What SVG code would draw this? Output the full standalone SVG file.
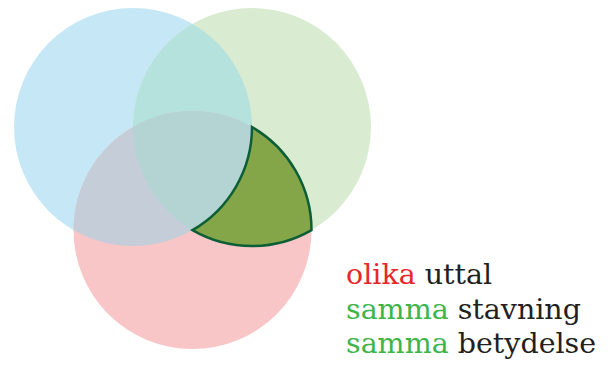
<svg xmlns="http://www.w3.org/2000/svg" width="616" height="365" viewBox="0 0 616 365">
<style>
.t{font-family:"DejaVu Serif","Liberation Serif",serif;font-size:28.5px;fill:#231f20}
.r{fill:#e8262b}
.g{fill:#3db54a}
</style>
<rect width="616" height="365" fill="#ffffff"/>
<g id="circle-blue"><circle cx="133" cy="127" r="119" fill="#c6e7f5"/></g>
<g id="circle-green"><circle cx="252" cy="127" r="119" fill="#d9ecd1"/></g>
<g id="circle-pink"><circle cx="192.5" cy="230.06" r="119" fill="#f9c6c8"/></g>
<g id="overlaps">
<path d="M192.5,23.94 A119,119 0 0 1 192.5,230.06 A119,119 0 0 1 192.5,23.94 Z" fill="#b6e2de"/>
<path d="M73.5,230.06 A119,119 0 0 0 252,127 A119,119 0 0 0 73.5,230.06 Z" fill="#c5cdd9"/>
<path d="M133,127 A119,119 0 0 1 252,127 A119,119 0 0 1 192.5,230.06 A119,119 0 0 1 133,127 Z" fill="#b4d4d3"/>
</g>
<g id="highlight"><path d="M252,127 A119,119 0 0 1 192.5,230.06 A119,119 0 0 0 311.5,230.06 A119,119 0 0 0 252,127 Z" fill="#85a648" stroke="#0b5e36" stroke-width="2.5" stroke-linejoin="miter"/></g>
<g id="legend">
<text class="t" x="346" y="284"><tspan class="r">olika</tspan> uttal</text>
<text class="t" x="346" y="318.5"><tspan class="g">samma</tspan> stavning</text>
<text class="t" x="346" y="353"><tspan class="g">samma</tspan> betydelse</text>
</g>
</svg>
